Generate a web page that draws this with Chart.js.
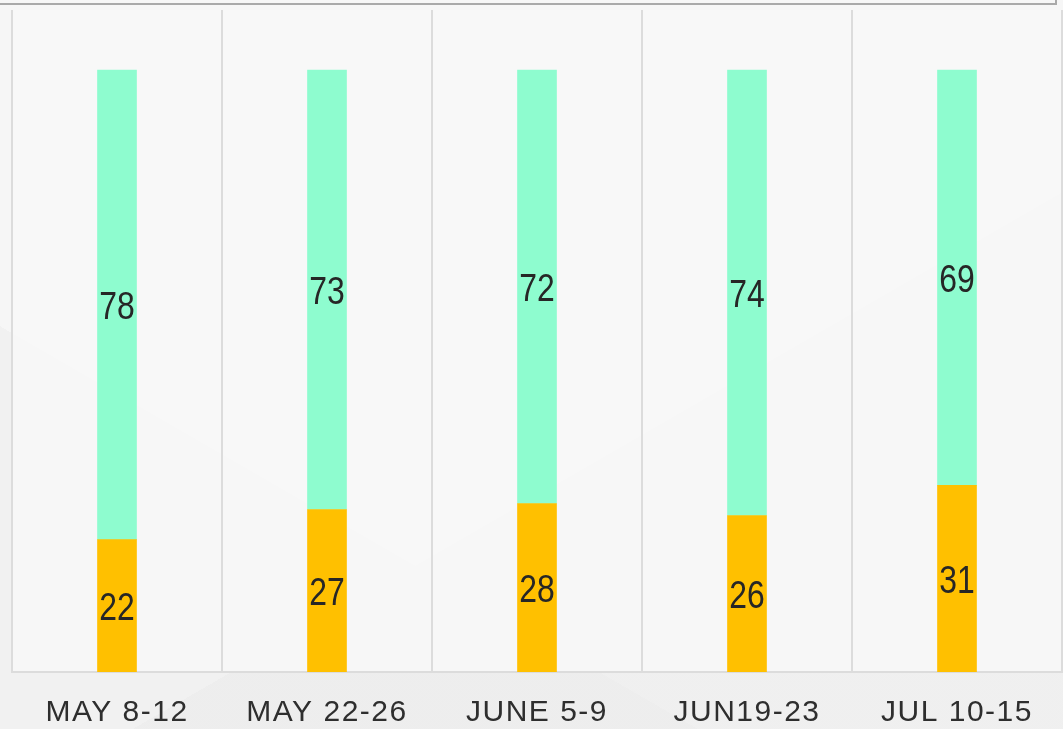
<!DOCTYPE html>
<html>
<head>
<meta charset="utf-8">
<script src="https://cdn.jsdelivr.net/npm/chart.js@4"></script>
<style>
  html, body { margin: 0; padding: 0; }
  body {
    width: 1063px; height: 729px; overflow: hidden; position: relative;
    background:
      linear-gradient(150deg, rgba(255,255,255,0) 0 60%, rgba(235,235,235,0.6) 60% 100%),
      linear-gradient(30deg, #f1f1f1 0 30%, #f6f6f6 30% 100%);
  }
  .frame {
    position: absolute; left: -2px; top: -10px; width: 1057px; height: 13px;
    border-bottom: 2px solid #a9a9a9; border-right: 2px solid #a9a9a9;
  }
  #wrap { position: absolute; left: 0; top: 0; width: 1063px; height: 755px; }
</style>
</head>
<body>
<div class="frame"></div>
<div id="wrap"><canvas id="weeks"></canvas></div>
<script>
const categories = ["MAY 8-12", "MAY 22-26", "JUNE 5-9", "JUN19-23", "JUL 10-15"];
const bottomValues = [22, 27, 28, 26, 31];
const topValues = [78, 73, 72, 74, 69];
const yMax = 110;

const plotBackground = {
  id: "plotBackground",
  beforeDraw(chart) {
    const { ctx, chartArea } = chart;
    ctx.save();
    ctx.fillStyle = "rgba(249,249,249,0.8)";
    ctx.fillRect(chartArea.left, chartArea.top, chartArea.right - chartArea.left, chartArea.bottom - chartArea.top);
    ctx.restore();
    // spaced capitals for the axis labels
    ctx.letterSpacing = "1.5px";
  },
  beforeDatasetsDraw(chart) {
    chart.ctx.letterSpacing = "0px";
  }
};

// values in the middle of each segment, squeezed to look condensed
const valueLabels = {
  id: "valueLabels",
  afterDatasetsDraw(chart) {
    const ctx = chart.ctx;
    chart.data.datasets.forEach((ds, i) => {
      chart.getDatasetMeta(i).data.forEach((bar, j) => {
        const mid = (bar.y + bar.base) / 2;
        ctx.save();
        ctx.translate(bar.x, mid + 4);
        ctx.scale(0.84, 1);
        ctx.font = "38px 'Liberation Sans', sans-serif";
        ctx.fillStyle = "#262626";
        ctx.textAlign = "center";
        ctx.textBaseline = "middle";
        ctx.fillText(String(ds.data[j]), 0, 0);
        ctx.restore();
      });
    });
  }
};

const ctx = document.getElementById("weeks").getContext("2d");
const weeksChart = new Chart(ctx, {
  type: "bar",
  data: {
    labels: categories,
    datasets: [
      {
        data: bottomValues,
        backgroundColor: "#FFC000",
        barThickness: 39,
      },
      {
        data: topValues,
        backgroundColor: "#8EFCCF",
        barThickness: 39,
      },
    ],
  },
  options: {
    responsive: true,
    maintainAspectRatio: false,
    animation: false,
    layout: { padding: { left: 12, right: 1, top: 10, bottom: 1 } },
    scales: {
      x: {
        stacked: true,
        grid: { color: "#dcdcdc", lineWidth: 2, drawTicks: false },
        border: { color: "#dcdcdc", width: 2 },
        ticks: {
          color: "#2e2e2e",
          padding: 23,
          font: { family: "'Liberation Sans', sans-serif", size: 30 },
        },
      },
      y: {
        stacked: true,
        display: false,
        min: 0,
        max: yMax,
      },
    },
    plugins: {
      legend: { display: false },
      tooltip: { enabled: false },
    },
  },
  plugins: [plotBackground, valueLabels],
});
</script>
</body>
</html>
